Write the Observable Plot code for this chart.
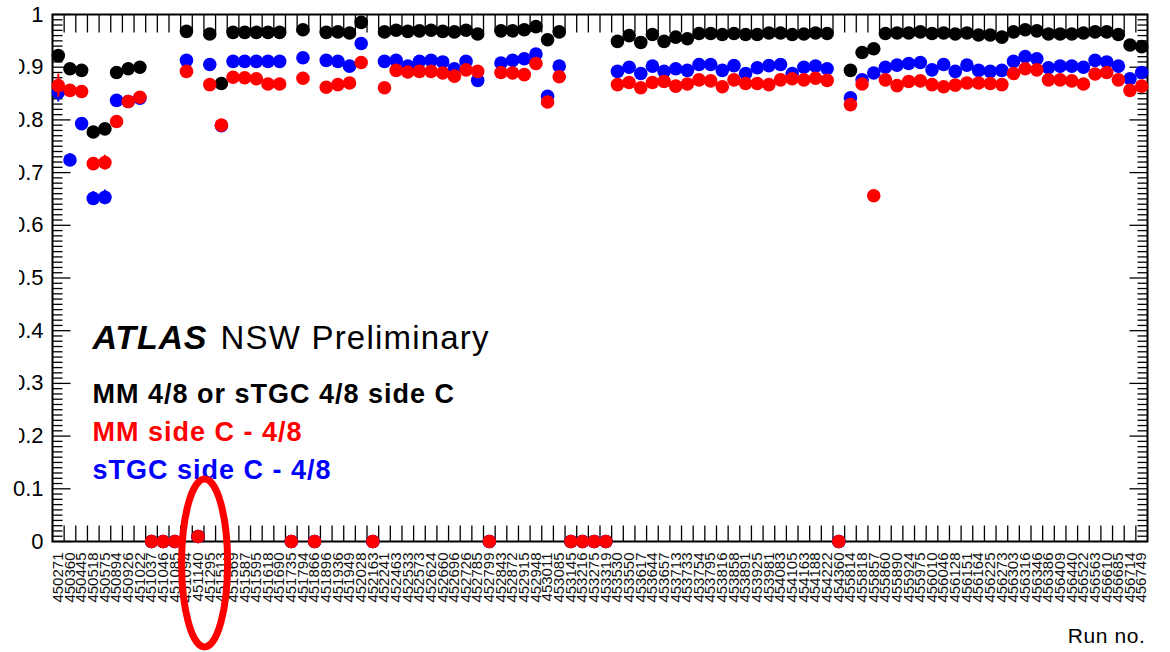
<!DOCTYPE html>
<html><head><meta charset="utf-8">
<script src="https://cdn.jsdelivr.net/npm/d3@7"></script>
<script src="https://cdn.jsdelivr.net/npm/@observablehq/plot@0.6"></script>
<style>
html,body{margin:0;padding:0;background:#fff;overflow:hidden}
#wrap{position:relative;width:1170px;height:652px}
#mask{position:absolute;left:0;top:0;width:19px;height:465px;background:#fff}
</style></head><body><div id="wrap"></div>
<script>
// ---- data ----
const runs = ["450271","450360","450445","450518","450575","450894","450926","451022","451037","451046",
"451085","451094","451140","451295","451513","451569","451587","451595","451618","451690",
"451735","451794","451866","451896","451936","451949","452028","452163","452241","452463",
"452533","452573","452624","452660","452696","452726","452785","452799","452843","452872",
"452915","452948","453011","453085","453145","453216","453275","453319","453530","453550",
"453617","453644","453657","453713","453733","453754","453795","453816","453858","453891",
"453925","453981","454083","454105","454163","454188","454222","454360","455814","455818",
"455857","455860","455890","455924","455975","456010","456046","456128","456151","456164",
"456225","456273","456303","456316","456346","456386","456409","456440","456522","456563",
"456610","456685","456714","456749"];

// MM 4/8 or sTGC 4/8 side C (black)
const orEff = [0.922,0.897,0.894,0.777,0.783,0.890,0.897,0.900,0,0,
0,0.968,0.0095,0.963,0.869,0.966,0.966,0.966,0.966,0.966,
0,0.971,0,0.966,0.967,0.965,0.985,0,0.967,0.970,
0.968,0.969,0.970,0.968,0.967,0.970,0.963,0,0.969,0.969,
0.971,0.977,0.952,0.967,0,0,0,0,0.949,0.960,
0.947,0.962,0.949,0.957,0.954,0.964,0.964,0.962,0.964,0.962,
0.962,0.965,0.965,0.962,0.963,0.965,0.964,0,0.894,0.928,
0.935,0.964,0.965,0.965,0.967,0.964,0.965,0.963,0.965,0.961,
0.961,0.957,0.967,0.971,0.969,0.963,0.963,0.963,0.965,0.967,
0.967,0.962,0.942,0.939];

// sTGC side C - 4/8 (blue)
const stgcEff = [0.852,0.724,0.793,0.651,0.653,0.837,0.835,0.841,0,0,
0,0.913,0.0095,0.905,0.789,0.911,0.911,0.911,0.911,0.911,
0,0.918,0,0.913,0.911,0.902,0.945,0,0.911,0.913,
0.902,0.911,0.913,0.910,0.897,0.911,0.875,0,0.908,0.913,
0.916,0.925,0.845,0.902,0,0,0,0,0.892,0.900,
0.888,0.902,0.892,0.897,0.894,0.905,0.905,0.894,0.903,0.888,
0.899,0.903,0.905,0.888,0.900,0.902,0.897,0,0.842,0.876,
0.889,0.900,0.904,0.907,0.909,0.895,0.905,0.892,0.904,0.894,
0.892,0.894,0.911,0.920,0.916,0.899,0.902,0.902,0.900,0.913,
0.910,0.902,0.878,0.890];

// MM side C - 4/8 (red)
const mmEff = [0.865,0.856,0.854,0.717,0.719,0.797,0.835,0.843,0,0,
0,0.892,0.0095,0.867,0.790,0.881,0.880,0.878,0.868,0.868,
0,0.879,0,0.862,0.867,0.870,0.909,0,0.861,0.894,
0.891,0.892,0.892,0.889,0.883,0.895,0.892,0,0.890,0.889,
0.886,0.907,0.834,0.882,0,0,0,0,0.867,0.871,
0.861,0.871,0.873,0.864,0.868,0.876,0.874,0.863,0.876,0.869,
0.869,0.867,0.876,0.878,0.876,0.879,0.875,0,0.829,0.868,
0.656,0.876,0.865,0.873,0.874,0.867,0.863,0.866,0.870,0.870,
0.869,0.867,0.888,0.897,0.895,0.876,0.876,0.874,0.868,0.887,
0.890,0.876,0.856,0.864];

// visible error bars
const errIndex  = [0, 0, 1, 3, 3, 4, 4, 4];
const errSeries = ["MM","sTGC","sTGC","MM","sTGC","MM","sTGC","OR"];
const errSize   = [0.022, 0.018, 0.012, 0.010, 0.013, 0.014, 0.014, 0.008];

const yTicks = [0,0.1,0.2,0.3,0.4,0.5,0.6,0.7,0.8,0.9,1];
const yTickLabels = ["0","0.1","0.2","0.3","0.4","0.5","0.6","0.7","0.8","0.9","1"];

const legendLines = ["MM 4/8 or sTGC 4/8 side C","MM side C - 4/8","sTGC side C - 4/8"];
const legendColors = ["#000000","#ff0000","#0000ff"];
const highlightRun = "451140";

// ---- layout ----
const W = 1170, H = 652, mL = 52, mR = 23, mT = 14, mB = 111;
const bw = (W - mL - mR) / runs.length;
const tickShape = {draw(ctx, l) { ctx.moveTo(0, 0); ctx.lineTo(0, -l); }};
const yMinor = d3.range(1, 100).filter(i => i % 10 !== 0).map(i => i / 100);

const rows = s => runs.map((run, i) => ({run, v: s[i]}));
const seriesMap = {OR: orEff, MM: mmEff, sTGC: stgcEff};
const seriesColor = {OR: "#000000", MM: "#ff0000", sTGC: "#0000ff"};
const errRows = errIndex.map((k, j) => ({run: runs[k], v: seriesMap[errSeries[j]][k], e: errSize[j], s: errSeries[j]}));
const errOf = s => errRows.filter(d => d.s === s);
const errMark = s => Plot.ruleX(errOf(s), {x: "run", y1: d => d.v - d.e, y2: d => d.v + d.e, stroke: seriesColor[s], strokeWidth: 2});
const R = 6.8;

const tickCommon = {anchor: "start", shape: tickShape, stroke: "black", strokeWidth: 1.3, strokeLinecap: "butt"};
const legendBaselines = [388, 426, 464];
const legendMarks = legendLines.map((line, i) =>
  Plot.text([line], {text: d => d, frameAnchor: "top-left", dx: 40, dy: legendBaselines[i], fill: legendColors[i],
    fontSize: 27, fontWeight: "bold", textAnchor: "start", lineAnchor: "bottom"}));

const plot = Plot.plot({
  width: W, height: H,
  marginLeft: mL, marginRight: mR, marginTop: mT, marginBottom: mB,
  style: {fontFamily: "'Liberation Sans', Arial, Helvetica, sans-serif", background: "white", color: "black"},
  x: {type: "band", domain: runs, padding: 0},
  y: {domain: [0, 1]},
  marks: [
    Plot.frame({stroke: "black", strokeWidth: 2}),
    // y ticks (inward, both sides)
    Plot.vector(yMinor, {y: d => d, frameAnchor: "left", rotate: 90, length: 10, ...tickCommon}),
    Plot.vector(yTicks, {y: d => d, frameAnchor: "left", rotate: 90, length: 18, ...tickCommon}),
    Plot.vector(yMinor, {y: d => d, frameAnchor: "right", rotate: -90, length: 10, ...tickCommon}),
    Plot.vector(yTicks, {y: d => d, frameAnchor: "right", rotate: -90, length: 18, ...tickCommon}),
    // x ticks at bin edges (top and bottom)
    Plot.vector(runs, {x: d => d, frameAnchor: "top", rotate: 180, length: 18, dx: -bw / 2, ...tickCommon}),
    Plot.vector(runs, {x: d => d, frameAnchor: "bottom", rotate: 0, length: 16, dx: -bw / 2, ...tickCommon}),
    Plot.axisX({tickRotate: -90, tickSize: 0, tickPadding: 11, fontSize: 15, label: null, color: "#111"}),
    Plot.axisY({ticks: yTicks, tickFormat: d => yTickLabels[yTicks.indexOf(d)], tickSize: 0, tickPadding: 9, fontSize: 22, label: null}),
    // annotations
    Plot.text(["ATLAS"], {text: d => d, frameAnchor: "top-left", dx: 40, dy: 334, fontSize: 34, fontWeight: "bold", fontStyle: "italic", textAnchor: "start", lineAnchor: "bottom"}),
    Plot.text(["NSW Preliminary"], {text: d => d, frameAnchor: "top-left", dx: 168, dy: 334, fontSize: 33, textAnchor: "start", lineAnchor: "bottom"}),
    ...legendMarks,
    Plot.text(["Run no."], {text: d => d, frameAnchor: "bottom-right", dx: -2, dy: 101, fontSize: 21, textAnchor: "end", lineAnchor: "bottom"}),
    // data
    Plot.dot(rows(orEff), {x: "run", y: "v", r: R, fill: seriesColor.OR}),
    errMark("OR"),
    errMark("sTGC"),
    Plot.dot(rows(stgcEff), {x: "run", y: "v", r: R, fill: seriesColor.sTGC}),
    errMark("MM"),
    Plot.dot(rows(mmEff), {x: "run", y: "v", r: R, fill: seriesColor.MM})
  ]
});

// horizontal stretch of the annotation texts (letter spacing)
const spacing = {"ATLAS": "0.8px", "NSW Preliminary": "1.2px", "Run no.": "0.6px"};
legendLines.forEach(l => spacing[l] = "1px");
d3.select(plot).selectAll("text").each(function() {
  const s = spacing[this.textContent];
  if (s) this.setAttribute("letter-spacing", s);
});

// highlight ellipse around the circled run
const sx = plot.scale("x"), sy = plot.scale("y");
d3.select(plot).append("ellipse")
  .attr("cx", sx.apply(highlightRun) + sx.bandwidth / 2 + 7)
  .attr("cy", sy.apply(0) + 22)
  .attr("rx", 23).attr("ry", 84)
  .attr("fill", "none").attr("stroke", "#ff0000").attr("stroke-width", 7);

const wrap = document.getElementById("wrap");
wrap.appendChild(plot);
const mask = document.createElement("div");
mask.id = "mask";
wrap.appendChild(mask);
</script>
</body></html>
